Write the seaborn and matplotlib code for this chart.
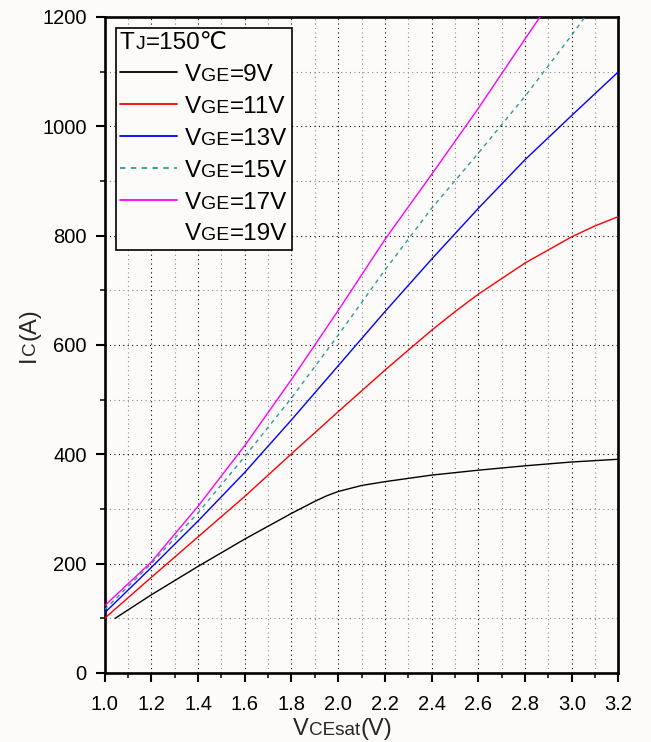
"""IGBT output characteristic: Ic vs VCEsat at Tj = 150 degC for several VGE."""

import matplotlib

matplotlib.use("Agg")

import matplotlib.pyplot as plt
import pandas as pd
import seaborn as sns
from matplotlib.lines import Line2D
from matplotlib.offsetbox import (
    AnchoredOffsetbox,
    DrawingArea,
    HPacker,
    TextArea,
    VPacker,
)
from matplotlib.ticker import FormatStrFormatter, MultipleLocator

# ── Curve data ──────────────────────────────────────────────────────────────
v_9v = [1.045, 1.2, 1.4, 1.6, 1.8, 1.85, 1.9, 1.95, 2.0, 2.1, 2.2, 2.4, 2.6, 2.8, 3.0, 3.2]
ic_9v = [100, 143, 195, 245, 292, 303, 314, 324, 332, 343, 350, 362, 371, 379, 386, 391]

v_11v = [1.0, 1.2, 1.4, 1.6, 1.8, 2.0, 2.2, 2.4, 2.5, 2.6, 2.8, 3.0, 3.1, 3.2]
ic_11v = [100, 175, 249, 323, 401, 478, 554, 627, 661, 693, 750, 798, 818, 835]

v_13v = [1.0, 1.2, 1.4, 1.6, 1.8, 2.0, 2.2, 2.4, 2.6, 2.8, 3.0, 3.2]
ic_13v = [110, 193, 278, 367, 463, 562, 661, 757, 850, 939, 1020, 1100]

v_15v = [1.0, 1.2, 1.4, 1.6, 1.8, 2.0, 2.2, 2.4, 2.6, 2.8, 3.0, 3.057]
ic_15v = [116, 200, 293, 396, 503, 618, 737, 850, 951, 1055, 1167, 1200]

v_17v = [1.0, 1.2, 1.4, 1.6, 1.8, 2.0, 2.2, 2.4, 2.6, 2.8, 2.864]
ic_17v = [123, 203, 305, 416, 537, 663, 793, 912, 1033, 1160, 1200]

gate_labels = ["9V", "11V", "13V", "15V", "17V", "19V"]
title_temp = "150℃"

x_limits = (1.0, 3.2)
y_limits = (0, 1200)

# ── Style ───────────────────────────────────────────────────────────────────
sns.set_theme(style="white")
plt.rcParams["font.family"] = ["Liberation Sans", "DejaVu Sans"]
plt.rcParams["axes.unicode_minus"] = False

BG = "#fcfbf9"
TICK_SIZE = 14.5
LABEL_SIZE = 17
LEGEND_SIZE = 17.5
SUB_SCALE = 0.8

# (x, y, colour, linestyle) per VGE; 19V has no drawn curve in the source
series = [
    (v_9v, ic_9v, "black", "-"),
    (v_11v, ic_11v, "#ff0000", "-"),
    (v_13v, ic_13v, "#0000ff", "-"),
    (v_15v, ic_15v, "#2f9a98", (0, (3.0, 3.0))),
    (v_17v, ic_17v, "#ff00ff", "-"),
    (None, None, "none", "-"),
]


def _rich_box(parts, size):
    """Baseline-aligned text pieces, second-level letters drawn smaller."""
    boxes = [
        TextArea(txt, textprops=dict(fontsize=size * scale, color="black"))
        for txt, scale in parts
    ]
    return HPacker(children=boxes, align="baseline", pad=0, sep=0.5)


def _rich_label(fig, x_px, y_px, parts, size, vertical=False):
    """Place mixed-size text centred at (x_px, y_px), image coords from top-left."""
    renderer = fig.canvas.get_renderer()
    W, H = fig.bbox.width, fig.bbox.height
    rot = 90 if vertical else 0
    placed = []
    total = 0.0
    for txt, scale in parts:
        t = fig.text(
            0, 0, txt, fontsize=size * scale, rotation=rot,
            rotation_mode="anchor", ha="left", va="baseline",
        )
        bb = t.get_window_extent(renderer)
        placed.append((t, total))
        total += (bb.height if vertical else bb.width) + 0.8
    for t, off in placed:
        if vertical:
            t.set_position((x_px / W, (H - y_px - total / 2 + off) / H))
        else:
            t.set_position(((x_px - total / 2 + off) / W, (H - y_px) / H))


# ── Figure ──────────────────────────────────────────────────────────────────
fig = plt.figure(figsize=(6.51, 7.42), dpi=100, facecolor=BG)
ax = fig.add_axes([104.6 / 651, 69 / 742, 513.9 / 651, 656 / 742])
ax.set_facecolor(BG)

for xs, ys, color, ls in series:
    if xs is None:
        continue
    df = pd.DataFrame({"vce": xs, "ic": ys})
    sns.lineplot(
        data=df, x="vce", y="ic", ax=ax, color=color, linestyle=ls,
        linewidth=1.0, legend=False, sort=True, estimator=None, zorder=3,
    )

ax.set_xlim(*x_limits)
ax.set_ylim(*y_limits)
ax.set_xlabel("")
ax.set_ylabel("")

ax.xaxis.set_major_locator(MultipleLocator(0.2))
ax.xaxis.set_minor_locator(MultipleLocator(0.1))
ax.xaxis.set_major_formatter(FormatStrFormatter("%.1f"))
ax.yaxis.set_major_locator(MultipleLocator(200))
ax.yaxis.set_minor_locator(MultipleLocator(100))

ax.grid(which="major", color="black", linestyle=(0, (1, 3)), linewidth=0.8, zorder=1)
ax.grid(which="minor", color="#8a8a8a", linestyle=(0, (1, 3)), linewidth=0.8, zorder=1)
ax.set_axisbelow(True)

ax.tick_params(which="major", direction="out", length=6.5, width=1.5,
               labelsize=TICK_SIZE, colors="black", bottom=True, left=True)
ax.tick_params(which="minor", direction="out", length=3.5, width=1.3,
               bottom=True, left=True)
ax.tick_params(axis="x", which="major", pad=9.5)
ax.tick_params(axis="y", which="major", pad=6.5)

for spine in ax.spines.values():
    spine.set_visible(True)
    spine.set_color("black")
    spine.set_linewidth(1.9)

# ── Legend built from offset boxes (mixed-size subscripts) ──────────────────
rows = [_rich_box([("T", 1.0), ("J", SUB_SCALE), ("=" + title_temp, 1.0)], LEGEND_SIZE)]
for (xs, ys, color, ls), lab in zip(series, gate_labels):
    handle = DrawingArea(41, 12, 0, 0)
    handle.add_artist(Line2D([0, 41], [6.5, 6.5], color=color, linestyle=ls, linewidth=1.3))
    text = _rich_box([("V", 1.0), ("GE", SUB_SCALE), ("=" + lab, 1.0)], LEGEND_SIZE)
    rows.append(HPacker(children=[handle, text], align="baseline", pad=0, sep=5.5))

legend_box = AnchoredOffsetbox(
    loc="upper left",
    child=VPacker(children=rows, align="left", pad=0, sep=7.1),
    pad=0.3,
    borderpad=0,
    frameon=True,
    bbox_to_anchor=(0.0215, 0.983),
    bbox_transform=ax.transAxes,
    prop=dict(size=10),
)
legend_box.patch.set_edgecolor("black")
legend_box.patch.set_facecolor(BG)
legend_box.patch.set_linewidth(1.2)
legend_box.set_zorder(5)
ax.add_artist(legend_box)

# ── Axis labels ─────────────────────────────────────────────────────────────
_rich_label(fig, 343, 735, [("V", 1.0), ("CEsat", SUB_SCALE), ("(V)", 1.0)], LABEL_SIZE)
_rich_label(fig, 35, 335, [("I", 1.0), ("C", SUB_SCALE), ("(A)", 1.0)], LABEL_SIZE, vertical=True)

fig.savefig("out.png", dpi=100, facecolor=BG)
